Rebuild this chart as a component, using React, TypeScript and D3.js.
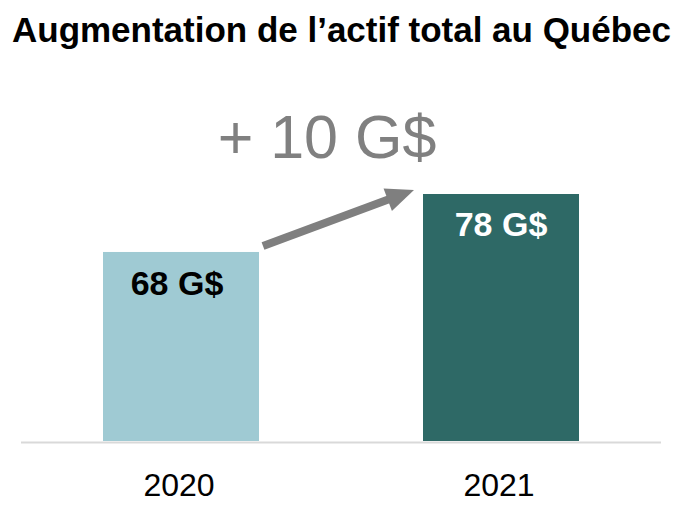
import React from "react";
import * as d3 from "d3";

const categories = ["2020", "2021"];
const values = [68, 78];
const valueLabels = ["68 G$", "78 G$"];
const barColors = ["#9fcad3", "#2e6966"];
const labelColors = ["#000000", "#ffffff"];
const title = "Augmentation de l\u2019actif total au Québec";
const deltaLabel = "+ 10 G$";

const W = 688;
const H = 517;

export default function App() {
  const x = d3
    .scaleBand<string>()
    .domain(categories)
    .range([21, 661])
    .paddingInner(0.5125)
    .paddingOuter(0.25625);
  const y = d3.scaleLinear().domain([35.4, 78]).range([441, 194]);
  const bw = x.bandwidth();

  // arrow from top-right of first bar to top-left of second bar
  const x0 = (x(categories[0]) as number) + bw + 4;
  const y0 = y(values[0]) - 6;
  const x1 = (x(categories[1]) as number) - 9;
  const y1 = y(values[1]) - 4;
  const dx = x1 - x0;
  const dy = y1 - y0;
  const len = Math.hypot(dx, dy);
  const ux = dx / len;
  const uy = dy / len;
  const headLen = 28;
  const headW = 12;
  const bx = x1 - ux * headLen;
  const by = y1 - uy * headLen;
  const px = -uy;
  const py = ux;
  const head = d3.line()([
    [x1, y1],
    [bx + px * headW, by + py * headW],
    [bx - px * headW, by - py * headW],
  ]) + "Z";

  return (
    <svg
      width={W}
      height={H}
      style={{ position: "absolute", left: 0, top: 0, background: "#fff" }}
      fontFamily="'Liberation Sans', Arial, sans-serif"
    >
      <text
        x={12}
        y={42}
        fontSize={35}
        fontWeight="bold"
        fill="#000"
        textLength={659}
        lengthAdjust="spacingAndGlyphs"
      >
        {title}
      </text>

      {categories.map((c, i) => (
        <rect
          key={c}
          x={x(c)}
          y={y(values[i])}
          width={bw}
          height={y.range()[0] - y(values[i])}
          fill={barColors[i]}
        />
      ))}

      <line x1={21} x2={661} y1={442.5} y2={442.5} stroke="#d9d9d9" strokeWidth={2} />

      {categories.map((c, i) => (
        <text
          key={"v" + c}
          x={(x(c) as number) + bw / 2 - (i === 0 ? 4 : 0)}
          y={y(values[i]) + (i === 0 ? 43 : 42)}
          textAnchor="middle"
          fontSize={34}
          fontWeight="bold"
          fill={labelColors[i]}
        >
          {valueLabels[i]}
        </text>
      ))}

      {categories.map((c) => (
        <text
          key={"c" + c}
          x={(x(c) as number) + bw / 2 - 2}
          y={496}
          textAnchor="middle"
          fontSize={32}
          fill="#000"
        >
          {c}
        </text>
      ))}

      <line
        x1={x0}
        y1={y0}
        x2={bx + ux * 2}
        y2={by + uy * 2}
        stroke="#7f7f7f"
        strokeWidth={8}
      />
      <path d={head} fill="#7f7f7f" />

      <text x={327} y={158} textAnchor="middle" fontSize={61} fill="#808080">
        {deltaLabel}
      </text>
    </svg>
  );
}
